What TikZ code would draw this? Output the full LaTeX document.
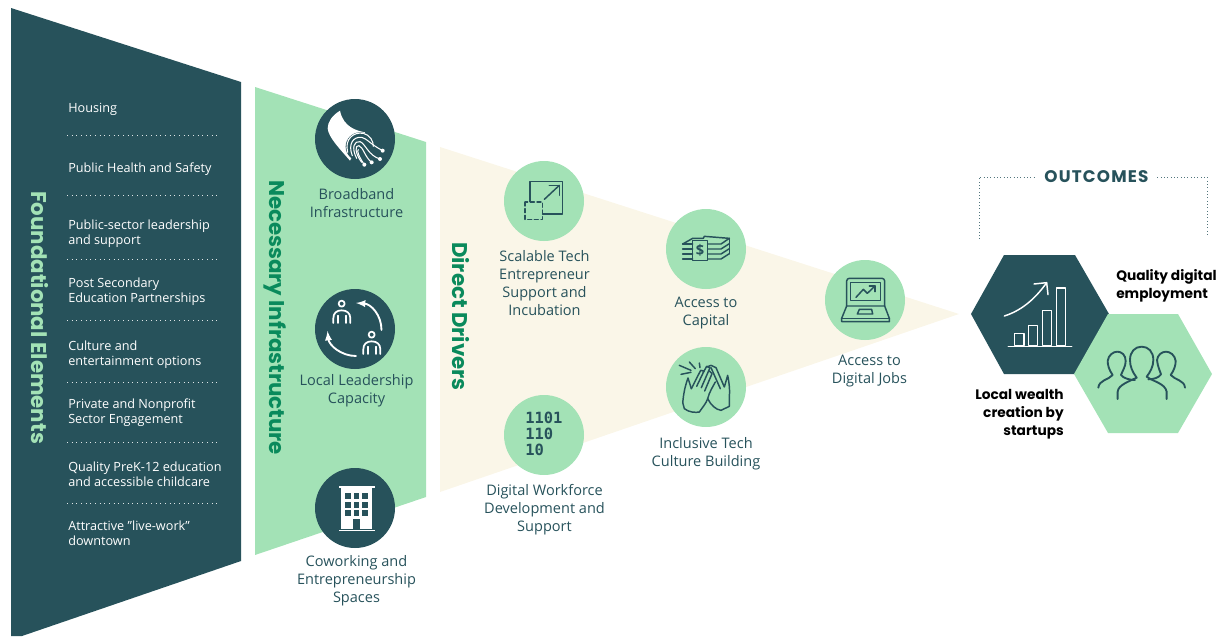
\documentclass[tikz,border=0pt]{standalone}
\usepackage{fontspec}
\setmainfont{Open Sans}
\newfontfamily\headfont{Poppins}
\newfontfamily\spacedfont{Poppins}[LetterSpace=7]
\newfontfamily\binfont{DejaVu Sans Mono}
\usetikzlibrary{arrows}

\definecolor{deepteal}{HTML}{27525B}
\definecolor{mint}{HTML}{A3E2B6}
\definecolor{cream}{HTML}{FAF6E8}
\definecolor{kelly}{HTML}{0A8A5C}

\tikzset{
	spot/.style={circle, inner sep=0pt, minimum size=60pt, fill=mint},
	darkspot/.style={spot, fill=deepteal},
	listitem/.style={anchor=west, align=left, inner sep=0pt, text=white, font=\fontsize{9.5pt}{11.3pt}\selectfont},
	caption/.style={align=center, inner sep=0pt, text=deepteal, font=\fontsize{10.9pt}{13.5pt}\selectfont},
	result/.style={align=left, inner sep=0pt, text=black, font=\headfont\bfseries\fontsize{10.3pt}{13.5pt}\selectfont},
	stagetitle/.style={rotate=-90, inner sep=0pt, font=\headfont\bfseries\fontsize{16pt}{18pt}\selectfont},
	sepline/.style={white!85!deepteal, line width=.5pt, dash pattern=on .6pt off 2.9pt},
	bracketline/.style={deepteal!80, line width=.5pt, dash pattern=on .6pt off 1.9pt},
	icon/.style={deepteal, line width=1.1pt, line join=round, line cap=round},
	whiteicon/.style={icon, white},
}

\begin{document}
\begin{tikzpicture}[x=.75pt, y=-.75pt]
	\useasboundingbox (0,0) rectangle (1217,636);

	% the three funnels
	\fill[deepteal] (11,8) -- (241,82) -- (241,561) -- (22,636) -- (11,636) -- cycle;
	\fill[mint] (255,87) -- (426,142) -- (426,497) -- (255,555) -- cycle;
	\fill[cream] (440,147) -- (959,314) -- (440,492) -- cycle;

	\node[stagetitle, text=mint] (foundational) at (40,317.5) {Foundational Elements};
	\node[stagetitle, text=kelly] (necessary) at (275,317.5) {Necessary Infrastructure};
	\node[stagetitle, text=kelly] (direct) at (461,316.5) {Direct Drivers};

	% foundational list
	\node[listitem] (housing) at (68,109) {Housing};
	\node[listitem] (health) at (68,169) {Public Health and Safety};
	\node[listitem] (public) at (68,233.5) {Public-sector leadership\\and support};
	\node[listitem] (postsec) at (68,291.5) {Post Secondary\\Education Partnerships};
	\node[listitem] (culture) at (68,354.5) {Culture and\\entertainment options};
	\node[listitem] (private) at (68,412.5) {Private and Nonprofit\\Sector Engagement};
	\node[listitem] (prek) at (68,474.3) {Quality PreK-12 education\\and accessible childcare};
	\node[listitem] (livework) at (68,533.5) {Attractive "live-work"\\downtown};
	\foreach \y in {135,195,259,320,382,442,503}
		\draw[sepline] (67,\y) -- (217,\y);

	% infrastructure circles
	\node[darkspot] (broadband) at (355,139) {};
	\node[darkspot] (leadership) at (355,329) {};
	\node[darkspot] (coworking) at (355,508) {};
	\node[caption] (broadbandtxt) at (356.5,203.5) {Broadband\\Infrastructure};
	\node[caption] (leadershiptxt) at (356.5,390.5) {Local Leadership\\Capacity};
	\node[caption] (coworkingtxt) at (356.5,581) {Coworking and\\Entrepreneurship\\Spaces};

	% driver circles
	\node[spot] (scalable) at (544,201) {};
	\node[spot] (capital) at (706,249) {};
	\node[spot] (culturespot) at (706,387) {};
	\node[spot] (workforce) at (544,435) {};
	\node[spot] (jobs) at (865,300) {};
	\node[caption] (scalabletxt) at (544.5,283) {Scalable Tech\\Entrepreneur\\Support and\\Incubation};
	\node[caption] (capitaltxt) at (706,313) {Access to\\Capital};
	\node[caption] (culturetxt) at (706,454) {Inclusive Tech\\Culture Building};
	\node[caption] (workforcetxt) at (544.5,510) {Digital Workforce\\Development and\\Support};
	\node[caption] (jobstxt) at (869.5,371) {Access to\\Digital Jobs};

	% outcomes
	\node[inner sep=0pt, text=deepteal, font=\spacedfont\bfseries\fontsize{12.6pt}{14pt}\selectfont] (outcomes) at (1096.5,177) {OUTCOMES};
	\coordinate (leftfoot) at (979,239);
	\coordinate (leftcorner) at (979,177);
	\coordinate (rightcorner) at (1207,177);
	\coordinate (rightfoot) at (1207,235);
	\draw[bracketline] (leftfoot) -- (leftcorner) -- ([xshift=-6.5pt]outcomes.west);
	\draw[bracketline] ([xshift=6.5pt]outcomes.east) -- (rightcorner) -- (rightfoot);

	\fill[deepteal] (971,314) -- (1004,255) -- (1075,255) -- (1109,314) -- (1075,374) -- (1004,374) -- cycle;
	\fill[mint] (1074,374) -- (1108,314) -- (1178,314) -- (1212,374) -- (1178,433) -- (1108,433) -- cycle;
	\node[result, anchor=west] (employment) at (1116,286) {Quality digital\\employment};
	\node[result, anchor=east, align=right] (wealth) at (1064,414.5) {Local wealth\\creation by\\startups};

	% broadband icon
	\begin{scope}[shift={(315,99)}, x=.25pt, y=-.25pt]
		\fill[white] (75,35) .. controls (50,50) and (38,70) .. (38,88) .. controls (40,115) and (75,150) .. (105,185) -- (150,100) .. controls (125,95) and (85,85) .. (75,35) -- cycle;
		\fill[deepteal] (135,143) circle[radius=43];
		\draw[whiteicon, line width=.8pt] (98,160) .. controls (88,120) and (115,98) .. (145,103) .. controls (165,108) and (175,125) .. (175,142);
		\draw[whiteicon, line width=.8pt] (112,170) .. controls (98,135) and (115,112) .. (140,115) .. controls (155,118) and (165,135) .. (203,155);
		\draw[whiteicon, line width=.8pt] (125,178) .. controls (108,145) and (118,125) .. (135,128) .. controls (150,132) and (160,170) .. (195,180);
		\draw[whiteicon, line width=.8pt] (140,190) .. controls (118,160) and (120,138) .. (132,140) .. controls (145,145) and (150,175) .. (170,190);
		\draw[whiteicon, line width=.8pt] (148,197) .. controls (130,170) and (125,155) .. (130,152);
		\fill[white] (203,155) circle[radius=6] (195,180) circle[radius=6] (170,190) circle[radius=6] (148,197) circle[radius=6];
	\end{scope}

	% leadership icon
	\foreach \px/\py in {315/289, 345/320} {
		\begin{scope}[shift={(\px,\py)}, x=.25pt, y=-.25pt]
			\draw[whiteicon, line width=1.3pt] (80,44) circle[radius=9];
			\draw[whiteicon, line width=1.3pt] (55,102) -- (55,88) .. controls (55,72) and (65,64) .. (80,64) .. controls (95,64) and (106,72) .. (106,88) -- (106,102);
			\draw[whiteicon, line width=1.3pt] (68,80) -- (68,102) (93,80) -- (93,102);
		\end{scope}
	}
	\draw[whiteicon, line width=1.4pt, -latex] (381.5,330) .. controls (381.5,315) and (371,304) .. (356,303);
	\draw[whiteicon, line width=1.4pt, -latex] (356,356) .. controls (341,356) and (329,345) .. (327.5,331);

	% building icon
	\begin{scope}[shift={(0,316)}, x=.25pt, y=-.25pt]
		\fill[white] (1024,516) rectangle (1116,640);
		\fill[white] (1016,510) rectangle (1124,515);
		\fill[white] (1016,641) rectangle (1124,646);
		\foreach \wx in {1036,1061,1087} {
			\foreach \wy in {532,557,583} {
				\fill[deepteal] (\wx,\wy) rectangle +(17,18);
			}
		}
		\fill[deepteal] (1060,608) rectangle (1080,640);
	\end{scope}

	% scale icon
	\begin{scope}[shift={(430,140)}, x=.25pt, y=-.25pt]
		\draw[icon] (300,185) -- (300,125) -- (398,125) -- (398,222) -- (338,222);
		\draw[icon, densely dashed] (285,186) rectangle (337,238);
		\draw[icon] (343,178) -- (388,136);
		\draw[icon] (358,136) -- (388,136) -- (388,166);
	\end{scope}

	% money icon
	\begin{scope}[shift={(666,209)}, x=.25pt, y=-.25pt]
		\draw[icon] (80,95) rectangle (125,155);
		\draw[icon] (50,105) -- (80,105) (50,120) -- (80,120) (50,135) -- (80,135) (50,150) -- (80,150);
		\draw[icon] (50,105) -- (80,88) -- (112,88) -- (115,82) -- (190,88) -- (165,105) -- (125,105);
		\draw[icon] (125,120) -- (165,120) -- (190,104) (125,135) -- (165,135) -- (190,119) (125,150) -- (165,150) -- (190,134);
		\draw[icon] (190,88) -- (190,134);
		\node[inner sep=0pt, text=deepteal, font=\bfseries\fontsize{11pt}{12pt}\selectfont] (dollar) at (102,125) {\$};
	\end{scope}

	% clapping icon
	\begin{scope}[shift={(666,347)}, x=.25pt, y=-.25pt]
		\draw[icon] (76,125) -- (66,93) .. controls (58,115) and (55,130) .. (52,150) .. controls (50,165) and (50,175) .. (55,185) .. controls (70,197) and (90,197) .. (100,195) .. controls (110,180) and (120,170) .. (125,155);
		\draw[icon] (76,125) -- (104,70) -- (114,72) -- (92,118);
		\draw[icon] (112,76) -- (122,58) -- (132,62) -- (106,122);
		\draw[icon] (130,72) -- (138,80) -- (116,132);
		\draw[icon] (125,155) .. controls (130,135) and (140,120) .. (148,105);
		\draw[icon] (122,60) -- (135,55) -- (150,62) -- (175,120) -- (185,85) .. controls (190,110) and (192,130) .. (190,150) -- (190,178) -- (165,190) .. controls (150,188) and (135,175) .. (125,155);
		\draw[icon] (135,62) -- (163,125);
		\draw[icon] (40,55) -- (75,70) (70,45) -- (88,65) (100,48) -- (102,62) (45,82) -- (75,76);
	\end{scope}

	% binary digits
	\node[anchor=north west, align=left, inner sep=0pt, text=deepteal, font=\binfont\bfseries\fontsize{11.6pt}{12pt}\selectfont] (binary) at (525,411.5) {1101\\110\\10};

	% laptop icon
	\begin{scope}[shift={(780,250)}, x=.25pt, y=-.25pt]
		\draw[icon, rounded corners=2pt] (200,168) -- (200,85) -- (314,85) -- (314,168);
		\draw[icon] (212,97) rectangle (302,152);
		\draw[icon] (228,142) -- (250,118) -- (262,130) -- (285,108);
		\draw[icon] (268,108) -- (285,108) -- (285,125);
		\draw[icon] (200,168) -- (314,168) -- (328,205) -- (328,215) -- (185,215) -- (185,205) -- cycle;
		\draw[icon] (185,205) -- (328,205);
		\draw[icon] (238,178) -- (275,178) -- (278,192) -- (232,192) -- cycle;
	\end{scope}

	% chart icon
	\begin{scope}[shift={(940,160)}, x=.25pt, y=-.25pt]
		\draw[whiteicon] (224,557) rectangle (252,520);
		\draw[whiteicon] (266,557) rectangle (293,497);
		\draw[whiteicon] (307,557) rectangle (335,452);
		\draw[whiteicon] (349,557) rectangle (377,384);
		\draw[whiteicon] (205,560) -- (395,560);
		\draw[whiteicon] (193,468) .. controls (250,450) and (290,410) .. (320,368);
		\draw[whiteicon] (282,372) -- (320,368) -- (324,404);
	\end{scope}

	% people icon
	\begin{scope}[shift={(1085,335)}, x=.25pt, y=-.25pt]
		\draw[icon, line width=1.4pt] (98,192) -- (98,170) .. controls (100,150) and (130,140) .. (155,128) .. controls (142,110) and (135,95) .. (135,75) .. controls (135,50) and (150,35) .. (170,35) .. controls (190,35) and (205,50) .. (205,75) .. controls (205,95) and (195,112) .. (185,125) .. controls (205,140) and (240,145) .. (245,170) -- (245,192);
		\draw[icon, line width=1.4pt] (40,158) .. controls (42,135) and (70,135) .. (83,120) .. controls (72,105) and (68,90) .. (68,78) .. controls (70,60) and (85,50) .. (97,50) .. controls (110,50) and (122,60) .. (122,78) .. controls (122,95) and (112,108) .. (108,120) .. controls (115,130) and (135,135) .. (150,135);
		\draw[icon, line width=1.4pt] (300,158) .. controls (298,135) and (270,135) .. (257,120) .. controls (268,105) and (272,90) .. (272,78) .. controls (270,60) and (255,50) .. (243,50) .. controls (230,50) and (218,60) .. (216,75) .. controls (218,95) and (225,108) .. (228,118) .. controls (222,128) and (205,133) .. (190,133);
	\end{scope}
\end{tikzpicture}
\end{document}
